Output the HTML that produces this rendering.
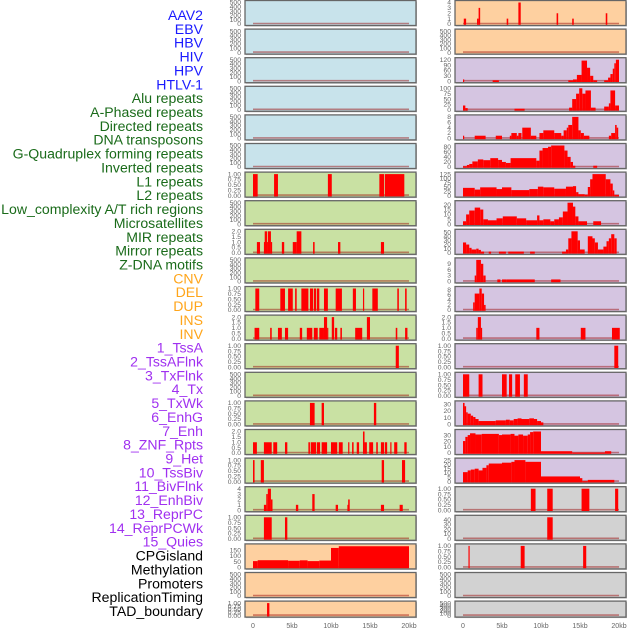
<!DOCTYPE html>
<html><head><meta charset="utf-8">
<style>
html,body{margin:0;padding:0;background:#fff;width:630px;height:630px;overflow:hidden}
svg{display:block;font-family:"Liberation Sans",sans-serif}
</style></head>
<body>
<svg id="chart" width="630" height="630" viewBox="0 0 630 630"></svg>
<script>
// ---- labels ----
const trackLabels = ["AAV2","EBV","HBV","HIV","HPV","HTLV-1","Alu repeats","A-Phased repeats","Directed repeats","DNA transposons","G-Quadruplex forming repeats","Inverted repeats","L1 repeats","L2 repeats","Low_complexity A/T rich regions","Microsatellites","MIR repeats","Mirror repeats","Z-DNA motifs","CNV","DEL","DUP","INS","INV","1_TssA","2_TssAFlnk","3_TxFlnk","4_Tx","5_TxWk","6_EnhG","7_Enh","8_ZNF_Rpts","9_Het","10_TssBiv","11_BivFlnk","12_EnhBiv","13_ReprPC","14_ReprPCWk","15_Quies","CPGisland","Methylation","Promoters","ReplicationTiming","TAD_boundary"];
const labelColors = ["#1a1aff","#1a1aff","#1a1aff","#1a1aff","#1a1aff","#1a1aff","#1a6b1a","#1a6b1a","#1a6b1a","#1a6b1a","#1a6b1a","#1a6b1a","#1a6b1a","#1a6b1a","#1a6b1a","#1a6b1a","#1a6b1a","#1a6b1a","#1a6b1a","#ffa51a","#ffa51a","#ffa51a","#ffa51a","#ffa51a","#a030f0","#a030f0","#a030f0","#a030f0","#a030f0","#a030f0","#a030f0","#a030f0","#a030f0","#a030f0","#a030f0","#a030f0","#a030f0","#a030f0","#a030f0","#000","#000","#000","#000","#000"];

// ---- tick label sets ----
const tEmpty = ["0","100","200","300","400","500"];
const tFrac = ["0.00","0.25","0.50","0.75","1.00"];
const tTwo = ["0.0","0.5","1.0","1.5","2.0"];
const tFour = ["0","1","2","3","4"];
const tCpg = ["0","50","100","150"];
const tR2 = ["0","30","60","90","120"];
const tR3 = ["0","25","50","75","100"];
const tEight = ["0","2","4","6","8"];
const tR5 = ["0","20","40","60","80"];
const tR6 = ["0","25","50","75","100","125"];
const tR7 = ["0","5","10","15","20"];
const tR8 = ["0","10","20","30","40","50"];
const tR9 = ["0","3","6","9"];
const tThirty = ["0","10","20","30"];
const tR16 = ["0","5","10","15","20","25"];
const tR18 = ["0","10","20","30","40"];
const xTickKb = [0,5,10,15,20];
const xTickLabels = ["0","5kb","10kb","15kb","20kb"];

// ---- segment data [startKb, endKb, value] ----
const L6 = [[0,0.6,1],[2.7,3.2,1],[9.6,10.1,1],[16.2,16.8,1],[16.9,19.4,1]];
const L8 = [[0.5,0.9,1],[1.4,1.5,1],[1.5,1.8,2],[1.8,1.9,1],[1.9,2.3,2],[2.3,2.4,1],[3.7,4.0,1],[5.1,5.6,1],[5.6,6.2,2],[7.7,7.9,1],[10.9,11.2,1],[16.4,16.8,1]];
const L10 = [[0.3,0.8,1],[3.5,4.1,1],[4.5,5.1,1],[5.4,5.6,1],[6.2,7.1,1],[7.3,7.7,1],[7.8,8.1,1],[8.2,8.5,1],[9.1,9.6,1],[10.6,11.4,1],[12.8,13.2,1],[14.1,14.2,1],[15.3,16.0,1],[18.5,18.7,1],[19.5,19.7,1]];
const L11 = [[0.2,0.8,1],[2.2,2.4,1],[3.2,3.7,1],[4.1,4.5,1],[6.0,6.3,1],[6.9,7.6,1],[7.8,8.3,1],[8.5,9.1,1],[9.1,9.5,2],[9.5,9.6,1],[10.1,10.4,2],[10.5,10.8,1],[11.2,11.4,1],[13.1,14.0,1],[14.6,15.0,2],[18.3,18.5,1],[19.5,19.8,1]];
const L12 = [[18.3,18.7,1]];
const L14 = [[7.3,7.9,1],[8.8,9.1,1],[15.5,15.8,1]];
const L15 = [[0,0.5,1],[1.4,2.4,1],[2.6,3.1,1],[4.1,4.4,1],[7.1,7.3,1],[7.4,8.1,1],[8.2,8.6,1],[8.8,9.5,1],[10.0,10.8,1],[11.0,11.5,1],[12.2,12.3,1],[12.7,12.9,1],[13.3,13.6,1],[14.1,14.3,2],[14.3,14.6,1],[14.9,15.4,1],[15.8,16.0,1],[16.4,16.8,1],[16.9,17.2,1],[17.6,17.7,1],[18.1,18.5,1],[19.4,19.7,1]];
const L16 = [[0,0.2,1],[1.0,1.4,1],[16.5,16.8,1],[19.1,19.5,1]];
const L17 = [[1.4,1.7,1],[1.7,1.9,3],[1.9,2.3,4],[2.3,2.5,2],[5.5,5.8,1],[7.6,7.9,3],[10.6,10.9,1],[12.1,12.2,1],[12.2,12.4,2],[16.4,16.8,1],[18.8,19.2,1]];
const L18 = [[1.4,2.4,1],[4.1,4.4,1]];
const L19 = [[0,0.6,55],[0.6,4.5,63],[4.5,6,58],[6,7,62],[7,8.5,55],[8.5,10,60],[10,11,170],[11,20,185]];
const L21 = [[1.8,2.1,1]];
const R0 = [[0.1,0.4,1],[1.8,2.0,1],[2.0,2.2,3],[5.6,5.8,1],[7.1,7.4,4],[12.0,12.2,2],[14.0,14.2,1],[18.3,18.5,2]];
const R2 = [[0,0.1,10],[3.8,4.6,5],[13.5,14.1,5],[14.1,14.6,10],[14.6,15.2,35],[15.2,15.9,115],[15.9,16.3,75],[16.3,16.7,30],[16.7,17.2,5],[18.1,18.6,5],[18.6,18.9,20],[18.9,19.2,40],[19.2,19.4,70],[19.4,19.6,100],[19.6,20.0,120]];
const R3 = [[0,0.3,20],[0.3,0.6,8],[6.6,7.9,5],[13.6,14.0,10],[14.0,14.5,50],[14.5,14.9,75],[14.9,15.3,100],[15.3,15.7,75],[15.7,16.4,90],[16.4,17.0,10],[18.1,18.7,15],[18.7,18.9,30],[18.9,19.5,90],[19.5,20,20]];
const R4 = [[0,0.1,1],[1.5,2.9,1],[4.2,5.0,1],[6.0,6.2,1],[6.2,6.9,2],[6.9,7.1,1],[7.1,7.5,2],[7.6,8.7,4],[8.7,9.4,1],[9.8,10.3,2],[10.3,11.7,3],[11.7,12.6,2],[12.6,12.9,1],[12.9,13.3,3],[13.3,13.5,4],[13.5,14.0,5],[14.0,14.8,8],[14.8,15.1,3],[15.1,15.5,2],[15.5,16.2,1],[18.7,19.0,1],[19.0,19.5,2],[19.5,19.7,5],[19.7,19.9,4]];
const R5 = [[0,0.5,3],[0.5,0.8,8],[0.8,1.2,12],[1.2,1.9,22],[1.9,2.6,30],[2.6,3.5,27],[3.5,4.5,35],[4.5,5.0,28],[5.0,5.5,20],[5.5,6.1,16],[6.1,9.4,35],[9.4,9.8,25],[9.8,10.2,65],[10.2,10.9,75],[10.9,11.3,80],[11.3,13.0,85],[13.0,13.4,65],[13.4,13.8,40],[13.8,14.1,20],[14.1,14.4,5],[16.7,17.2,5]];
const R6 = [[0,1.5,45],[1.5,2.2,35],[2.2,4.3,48],[4.3,5.0,38],[5.0,6.2,48],[6.2,8.5,32],[8.5,9.6,38],[9.6,10.3,52],[10.3,11.7,48],[11.7,13.2,40],[13.2,14.1,52],[14.1,14.5,55],[14.5,14.8,20],[14.8,15.6,8],[15.6,16.0,5],[16.0,16.3,50],[16.3,16.6,95],[16.6,18.3,125],[18.3,18.9,95],[18.9,19.2,70],[19.2,19.4,30],[19.4,20,3]];
const R7 = [[0,0.4,3],[0.4,0.8,10],[0.8,1.5,14],[1.5,2.2,17],[2.2,2.6,15],[2.6,3.2,5],[3.2,4.3,4],[4.3,5.1,6],[5.1,6.9,8],[6.9,8.1,6],[8.1,9.5,4],[9.5,9.8,9],[9.8,10.3,4],[10.3,11.2,5],[11.2,11.7,3],[11.7,12.3,5],[12.3,12.8,7],[12.8,13.4,13],[13.4,14.1,22],[14.1,14.4,18],[14.4,14.8,8],[14.8,15.9,3],[16.7,17.7,3]];
const R8 = [[0,0.4,25],[0.4,0.8,20],[0.8,1.1,12],[1.1,1.7,8],[1.7,2.0,10],[2.0,2.3,7],[2.3,2.7,3],[3.3,3.6,3],[4.6,5.5,3],[5.8,7.8,3],[8.6,9.2,3],[12.7,13.2,3],[13.2,13.5,8],[13.5,13.9,35],[13.9,14.7,52],[14.7,15.0,30],[15.0,15.6,8],[16.0,16.6,40],[16.6,16.9,35],[16.9,17.3,25],[17.3,18.0,8],[18.0,18.4,15],[18.4,18.7,28],[18.7,19.0,35],[19.0,19.4,45],[19.4,19.7,35]];
const R9 = [[1.5,1.7,3],[1.7,2.3,11],[2.3,2.6,9],[2.6,2.9,3],[4.4,4.8,1],[5.0,5.6,1],[5.6,9.2,1],[11.3,12.5,1]];
const R10 = [[1.3,1.5,3],[1.5,2.1,6.5],[2.1,2.4,8.5],[2.4,2.7,6.5],[2.7,2.9,2]];
const R11 = [[1.7,1.9,1],[1.9,2.3,2],[2.3,2.4,1],[9.4,9.8,1],[15.1,15.7,1],[19.1,20.1,1]];
const R12 = [[19.4,19.9,1]];
const R13 = [[0,0.8,1],[2.0,2.5,1],[5.0,5.6,1],[5.9,6.3,1],[6.7,7.3,1],[7.8,8.3,1]];
const R14 = [[0,0.2,32],[0.2,0.4,27],[0.4,0.6,18],[0.6,1.0,16],[1.0,1.3,13],[1.3,1.6,11],[1.6,2.0,8],[2.0,4.2,5],[4.2,5.5,6],[5.5,6.0,7],[6.0,6.5,6],[6.5,7.0,8],[7.0,7.5,9],[7.5,8.5,8],[8.5,9.1,9],[9.1,9.5,8],[9.5,10.0,5],[10.0,10.3,3]];
const R15 = [[0,0.3,20],[0.3,0.6,27],[0.6,0.9,30],[0.9,1.6,33],[1.6,2.4,31],[2.4,4.6,32],[4.6,5.0,30],[5.0,6.1,31],[6.1,6.6,32],[6.6,7.1,29],[7.1,7.7,31],[7.7,8.3,29],[8.3,8.6,31],[8.6,9.0,35],[9.0,10.0,36],[10.0,14.0,3],[14.0,18.2,0.8],[18.2,19.0,3]];
const R16 = [[0,0.6,11],[0.6,1.0,13],[1.0,1.5,14],[1.5,2.0,15],[2.0,2.5,13],[2.5,3.0,16],[3.0,3.3,19],[3.3,5.0,21],[5.0,6.2,22],[6.2,6.6,23],[6.6,8.0,25],[8.0,10.0,23],[10.0,15.0,6],[15.0,15.3,4],[15.3,16.0,0.5],[16.0,19.4,2]];
const R17 = [[8.7,9.3,1],[10.8,11.5,1],[15.2,16.2,1],[19.5,19.9,1]];
const R18 = [[10.8,11.5,45]];
const R19 = [[0.7,0.8,1],[7.4,7.9,1],[15.4,15.8,1]];

// ---- panel background colours ----
const cBlue="#c8e3eb", cGreen="#c9e1a3", cOrange="#fed0a0", cPurple="#d5c5e1", cGray="#d2d2d2";

// panel definitions: [column, row, bg, ticks, axisMax, segments]
const panels = [
 [0,0,cBlue,tEmpty,500,[]],[0,1,cBlue,tEmpty,500,[]],[0,2,cBlue,tEmpty,500,[]],[0,3,cBlue,tEmpty,500,[]],[0,4,cBlue,tEmpty,500,[]],[0,5,cBlue,tEmpty,500,[]],
 [0,6,cGreen,tFrac,1,L6],[0,7,cGreen,tEmpty,500,[]],[0,8,cGreen,tTwo,2,L8],[0,9,cGreen,tEmpty,500,[]],[0,10,cGreen,tFrac,1,L10],[0,11,cGreen,tTwo,2,L11],
 [0,12,cGreen,tFrac,1,L12],[0,13,cGreen,tEmpty,500,[]],[0,14,cGreen,tFrac,1,L14],[0,15,cGreen,tTwo,2,L15],[0,16,cGreen,tFrac,1,L16],[0,17,cGreen,tFour,4,L17],[0,18,cGreen,tFrac,1,L18],
 [0,19,cOrange,tCpg,188,L19],[0,20,cOrange,tEmpty,500,[]],[0,21,cOrange,tFrac,1,L21],
 [1,0,cOrange,tFour,4,R0],[1,1,cOrange,tEmpty,500,[]],[1,2,cPurple,tR2,120,R2],[1,3,cPurple,tR3,100,R3],[1,4,cPurple,tEight,8,R4],[1,5,cPurple,tR5,85,R5],
 [1,6,cPurple,tR6,125,R6],[1,7,cPurple,tR7,22,R7],[1,8,cPurple,tR8,52,R8],[1,9,cPurple,tR9,11,R9],[1,10,cPurple,tEight,8.5,R10],[1,11,cPurple,tTwo,2,R11],
 [1,12,cPurple,tFrac,1,R12],[1,13,cPurple,tFrac,1,R13],[1,14,cPurple,tThirty,32,R14],[1,15,cPurple,tThirty,36,R15],[1,16,cPurple,tR16,25,R16],
 [1,17,cGray,tFrac,1,R17],[1,18,cGray,tR18,45,R18],[1,19,cGray,tFrac,1,R19],[1,20,cGray,tEmpty,500,[]],[1,21,cGray,tEmpty,500,[]]
];

const NS="http://www.w3.org/2000/svg";
const svg=document.getElementById('chart');
function mk(tag,attrs,parent){const e=document.createElementNS(NS,tag);for(const k in attrs)e.setAttribute(k,attrs[k]);(parent||svg).appendChild(e);return e;}

// labels
trackLabels.forEach((t,i)=>{
  const el=mk('text',{x:203,y:15+i*13.86+5,'text-anchor':'end','font-size':14.1,fill:labelColors[i]});
  
  
  el.textContent=t;
});

const colX=[245,455], panelW=171, zeroOff=8, pxPerKb=7.8;
function xScale(col,kb){return colX[col]+zeroOff+kb*pxPerKb;}
function rowTop(r){return 0.5+r*28.6;}
function rowH(r){return r===21?16:25;}

panels.forEach(p=>{
  const [col,row,bg,ticks,maxV,segs]=p;
  const top=rowTop(row), h=rowH(row), x0=colX[col];
  const g=mk('g',{});
  
  
  mk('rect',{x:x0+1,y:top+1,width:panelW,height:h,fill:'#bbb'},g);
  mk('rect',{x:x0,y:top,width:panelW,height:h,fill:bg,stroke:'#666','stroke-width':1.3},g);
  const yBase=top+h-1.5, yTop=top+2;
  const yScale=v=>yBase-(v/maxV)*(yBase-yTop);
  // ticks
  ticks.forEach(t=>{
    const v=parseFloat(t);
    const tx=mk('text',{x:x0-4,y:(v/maxV<=1? yScale(v):yTop)+2.2,'text-anchor':'end','font-size':6.8,fill:'#666'},g);
    
    
    tx.textContent=t;
  });
  // baseline
  const bl=mk('line',{x1:xScale(col,0),x2:xScale(col,20),y1:yBase-0.5,y2:yBase-0.5,stroke:'rgba(150,0,0,0.45)','stroke-width':1.6},g);
  
  
  // bars
  segs.forEach(s=>{
    const xa=xScale(col,s[0]), xb=xScale(col,s[1]);
    const yv=Math.max(top+0.7,yScale(s[2]));
    const r=mk('rect',{x:xa,y:yv,width:Math.max(1.2,xb-xa),height:yBase-yv+0.8,fill:'#ff0000'},g);
    
    
  });
});

// x axis labels
[0,1].forEach(col=>{
  xTickKb.forEach((kb,i)=>{
    const t=mk('text',{x:xScale(col,kb),y:628,'text-anchor':'middle','font-size':7,fill:'#666'});
    
    
    t.textContent=xTickLabels[i];
  });
});
</script>
</body></html>
